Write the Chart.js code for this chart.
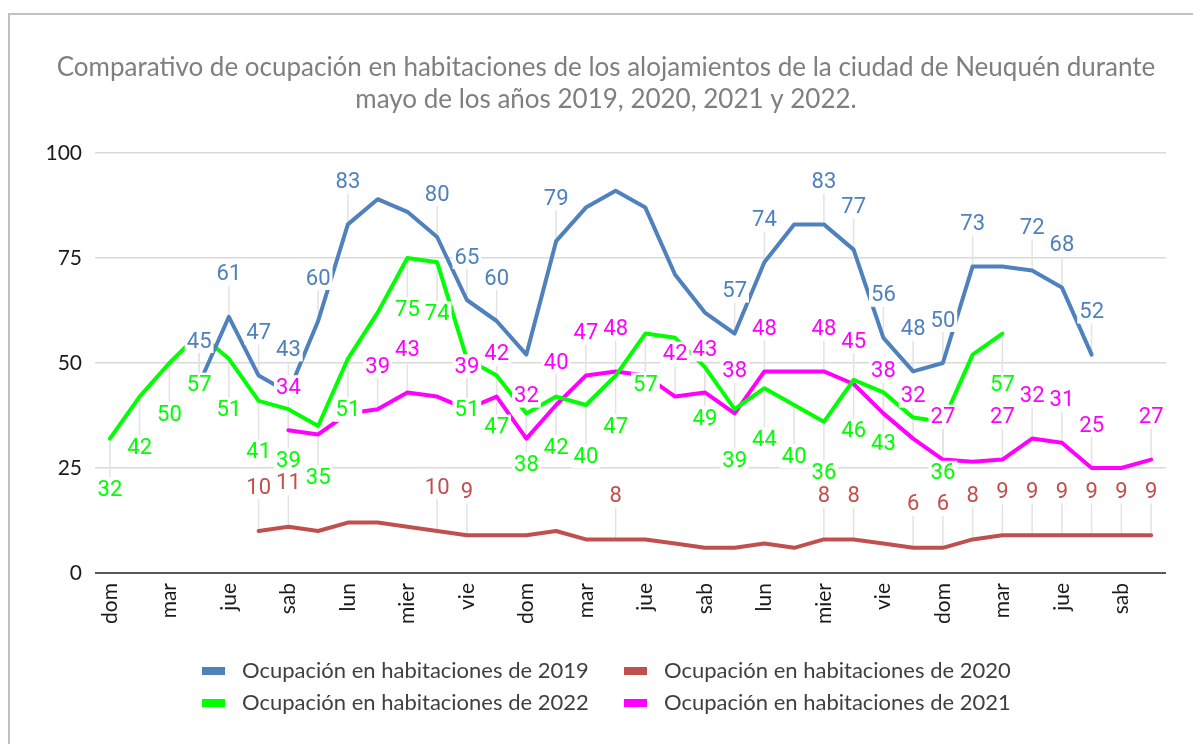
<!DOCTYPE html>
<html>
<head>
<meta charset="utf-8">
<title>Ocupación Neuquén mayo</title>
<script src="https://cdn.jsdelivr.net/npm/chart.js@4.4.0/dist/chart.umd.min.js"></script>
<style>
  body { margin: 0; background: #fff; }
  #wrap { position: relative; width: 1193px; height: 744px; }
</style>
</head>
<body>
<div id="wrap"><canvas id="chart"></canvas></div>
<script>
// ==================== DATA ====================
const days = [
  'dom', 'lun', 'mar', 'mier', 'jue', 'vie', 'sab',
  'dom', 'lun', 'mar', 'mier', 'jue', 'vie', 'sab',
  'dom', 'lun', 'mar', 'mier', 'jue', 'vie', 'sab',
  'dom', 'lun', 'mar', 'mier', 'jue', 'vie', 'sab',
  'dom', 'lun', 'mar', 'mier', 'jue', 'vie', 'sab',
  'dom'
];

const occ2019 = [null, null, null, 45, 61, 47, 43, 60, 83, 89, 86, 80, 65, 60, 52, 79, 87, 91,
                 87, 71, 62, 57, 74, 83, 83, 77, 56, 48, 50, 73, 73, 72, 68, 52, null, null];
const occ2020 = [null, null, null, null, null, 10, 11, 10, 12, 12, 11, 10, 9, 9, 9, 10, 8, 8,
                 8, 7, 6, 6, 7, 6, 8, 8, 7, 6, 6, 8, 9, 9, 9, 9, 9, 9];
const occ2022 = [32, 42, 50, 57, 51, 41, 39, 35, 51, 62, 75, 74, 51, 47, 38, 42, 40, 47,
                 57, 56, 49, 39, 44, 40, 36, 46, 43, 37, 36, 52, 57, null, null, null, null, null];
const occ2021 = [null, null, null, null, null, null, 34, 33, 38, 39, 43, 42, 39, 42, 32, 40, 47, 48,
                 47, 42, 43, 38, 48, 48, 48, 45, 38, 32, 27, 26.5, 27, 32, 31, 25, 25, 27];

// which points carry a data label (the rest were removed in the original)
const lbl2019 = [3, 4, 5, 6, 7, 8, 11, 12, 13, 15, 21, 22, 24, 25, 26, 27, 28, 29, 31, 32, 33];
const lbl2020 = [5, 6, 11, 12, 17, 24, 25, 27, 28, 29, 30, 31, 32, 33, 34, 35];
const lbl2022 = [0, 1, 2, 3, 4, 5, 6, 7, 8, 10, 11, 12, 13, 14, 15, 16, 17, 18, 20, 21, 22, 23, 24, 25, 26, 28, 30];
const lbl2021 = [6, 9, 10, 12, 13, 14, 15, 16, 17, 19, 20, 21, 22, 24, 25, 26, 27, 28, 30, 31, 32, 33, 35];

const yTicks = [0, 25, 50, 75, 100];

const titleLines = [
  'Comparativo de ocupación en habitaciones de los alojamientos de la ciudad de Neuquén durante',
  'mayo de los años 2019, 2020, 2021 y 2022.'
];

const COLORS = {
  y2019: '#4f81bd',
  y2020: '#c0504d',
  y2022: '#00ff00',
  y2021: '#ff00ff'
};

// ==================== PLUGINS ====================
// outer frame, title and legend
const frameAndText = {
  id: 'frameAndText',
  beforeDraw(chart) {
    const ctx = chart.ctx;
    ctx.save();
    ctx.strokeStyle = '#c0c0c0';
    ctx.lineWidth = 2;
    ctx.beginPath();
    ctx.moveTo(9, 744);
    ctx.lineTo(9, 14);
    ctx.lineTo(1193, 14);
    ctx.stroke();
    ctx.restore();
  },
  afterDraw(chart) {
    const ctx = chart.ctx;
    ctx.save();
    // title
    ctx.fillStyle = '#7f7f7f';
    ctx.font = '26px Lato';
    ctx.textAlign = 'center';
    ctx.textBaseline = 'middle';
    ctx.fillText(titleLines[0], 606, 68);
    ctx.fillText(titleLines[1], 606, 100);

    // legend, two columns
    const cols = [202, 624];
    const rows = [671, 703];
    ctx.font = '22px Lato';
    ctx.textAlign = 'left';
    chart.data.datasets.forEach((ds, i) => {
      const x = cols[i % 2];
      const y = rows[Math.floor(i / 2)];
      ctx.fillStyle = ds.borderColor;
      ctx.fillRect(x, y - 4, 23, 8);
      ctx.fillStyle = '#404040';
      ctx.fillText(ds.label, x + 40, y);
    });
    ctx.restore();
  }
};

// thin grey leader lines between point and label
const leaderLines = {
  id: 'leaderLines',
  beforeDatasetsDraw(chart) {
    const ctx = chart.ctx;
    ctx.save();
    ctx.strokeStyle = '#e3e3e3';
    ctx.lineWidth = 1.5;
    chart.data.datasets.forEach((ds, di) => {
      const meta = chart.getDatasetMeta(di);
      ds.labelAt.forEach(i => {
        const pt = meta.data[i];
        if (!pt || ds.data[i] === null) return;
        const ly = pt.y + ds.labelDy;
        const edge = ds.labelDy < 0 ? ly + 12 : ly - 12;
        ctx.beginPath();
        ctx.moveTo(pt.x, pt.y);
        ctx.lineTo(pt.x, edge);
        ctx.stroke();
      });
    });
    ctx.restore();
  }
};

// data labels with white background
const pointLabels = {
  id: 'pointLabels',
  afterDatasetsDraw(chart) {
    const ctx = chart.ctx;
    ctx.save();
    ctx.font = '22px Roboto';
    ctx.textAlign = 'center';
    ctx.textBaseline = 'middle';
    chart.data.datasets.forEach((ds, di) => {
      const meta = chart.getDatasetMeta(di);
      ds.labelAt.forEach(i => {
        const pt = meta.data[i];
        if (!pt || ds.data[i] === null) return;
        const txt = String(Math.round(ds.data[i]));
        const ly = pt.y + ds.labelDy;
        const w = ctx.measureText(txt).width + 4;
        ctx.fillStyle = '#ffffff';
        ctx.fillRect(pt.x - w / 2, ly - 12, w, 24);
        ctx.fillStyle = ds.borderColor;
        ctx.fillText(txt, pt.x, ly + 1);
      });
    });
    ctx.restore();
  }
};

// ==================== CHART ====================
const lineStyle = {
  borderWidth: 4,
  pointRadius: 0,
  pointHoverRadius: 0,
  tension: 0,
  fill: false,
  spanGaps: false,
  borderJoinStyle: 'round',
  borderCapStyle: 'round'
};

new Chart(document.getElementById('chart').getContext('2d'), {
  type: 'line',
  data: {
    labels: days,
    datasets: [
      Object.assign({ label: 'Ocupación en habitaciones de 2019', data: occ2019,
        borderColor: COLORS.y2019, backgroundColor: COLORS.y2019, labelAt: lbl2019, labelDy: -43 }, lineStyle),
      Object.assign({ label: 'Ocupación en habitaciones de 2020', data: occ2020,
        borderColor: COLORS.y2020, backgroundColor: COLORS.y2020, labelAt: lbl2020, labelDy: -44 }, lineStyle),
      Object.assign({ label: 'Ocupación en habitaciones de 2022', data: occ2022,
        borderColor: COLORS.y2022, backgroundColor: COLORS.y2022, labelAt: lbl2022, labelDy: 51 }, lineStyle),
      Object.assign({ label: 'Ocupación en habitaciones de 2021', data: occ2021,
        borderColor: COLORS.y2021, backgroundColor: COLORS.y2021, labelAt: lbl2021, labelDy: -43 }, lineStyle)
    ]
  },
  options: {
    responsive: true,
    maintainAspectRatio: false,
    animation: false,
    layout: { padding: { top: 153, left: 0, right: 27, bottom: 111 } },
    plugins: {
      legend: { display: false },
      title: { display: false },
      tooltip: { enabled: false }
    },
    scales: {
      x: {
        offset: true,
        grid: { display: false, drawTicks: false },
        border: { display: false },
        ticks: {
          autoSkip: false,
          maxRotation: 90,
          minRotation: 90,
          padding: 10,
          color: '#1a1a1a',
          font: { family: 'Lato', size: 21 },
          callback: function(v, i) {
            return i % 2 === 0 ? this.getLabelForValue(v) : '';
          }
        },
        afterFit(scale) { scale.height = 60; }
      },
      y: {
        min: 0,
        max: 100,
        afterBuildTicks(scale) { scale.ticks = yTicks.map(v => ({ value: v })); },
        grid: {
          drawTicks: false,
          color: c => (c.tick && c.tick.value === 0 ? '#595959' : '#d9d9d9'),
          lineWidth: c => (c.tick && c.tick.value === 0 ? 2 : 1.5)
        },
        border: { display: false },
        ticks: {
          padding: 13,
          color: '#1a1a1a',
          font: { family: 'Lato', size: 21 }
        },
        afterFit(scale) { scale.width = 95; }
      }
    }
  },
  plugins: [frameAndText, leaderLines, pointLabels]
});
</script>
</body>
</html>
